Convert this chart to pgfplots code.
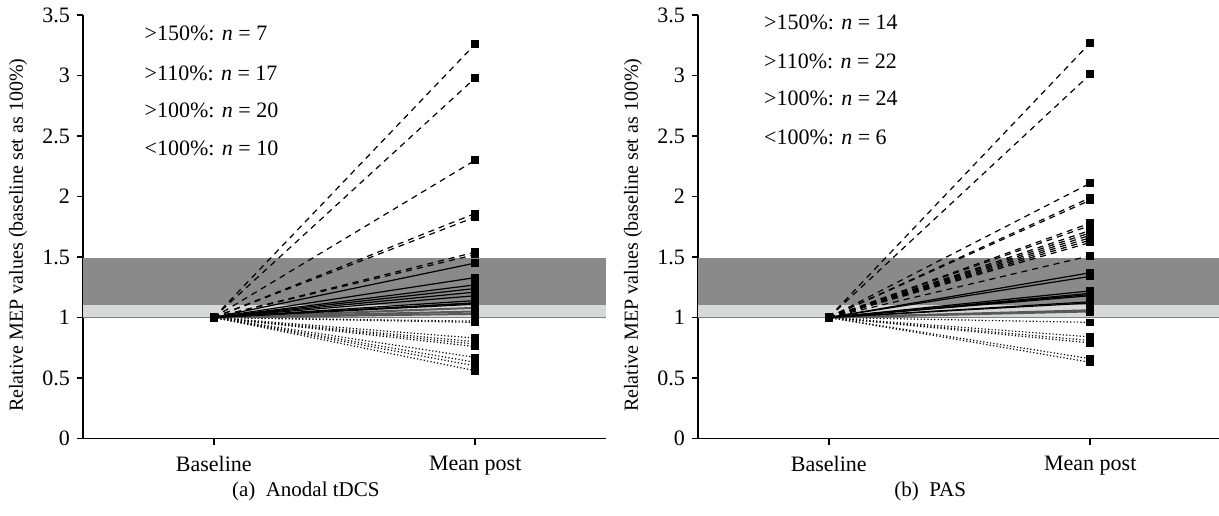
\documentclass[border=0pt]{standalone}
\usepackage{fontspec}
\setmainfont{Liberation Serif}
\usepackage{pgfplots}
\pgfplotsset{compat=1.18}
\definecolor{darkband}{HTML}{8A8A8A}
\definecolor{lightband}{HTML}{D7D8D8}
\tikzset{ann/.style={anchor=west, font=\fontsize{11}{13}\selectfont}}
\pgfplotsset{
  panel/.style={
    scale only axis, width=261.5pt, height=211.75pt,
    anchor=south west,
    xmin=0.5, xmax=2.5, ymin=0, ymax=3.5,
    axis lines*=left, axis line style={line width=0.9pt, -},
    xtick={1,2}, xticklabels={Baseline, Mean post},
    ytick={0,0.5,1,1.5,2,2.5,3,3.5},
    tick align=outside, major tick length=3pt, tick style={line width=0.9pt, black},
    tick label style={font=\fontsize{11}{13}\selectfont},
    xticklabel style={yshift=-2.5pt},
    /pgf/number format/assume math mode=true,
    ylabel={Relative MEP values (baseline set as 100\%)},
    ylabel style={at={(axis description cs:-0.124,0.48)}, anchor=center, font=\fontsize{10}{12}\selectfont},
    clip=false,
  },
  base/.style={black, line width=0.6pt, mark=square*, mark size=1.6pt, mark options={solid, black}},
  dsh/.style={base, dash pattern=on 3pt off 2.5pt},
  sol/.style={base},
  gry/.style={base, black!65, line width=1pt},
  dot/.style={base, dash pattern=on 0.6pt off 1.1pt},
}
\begin{document}
\begin{tikzpicture}
\useasboundingbox (0,0) rectangle (609.5pt,257.5pt);
% ---------------- (a) Anodal tDCS ----------------
\begin{axis}[panel, at={(41.5pt,38.25pt)}]
\addplot[draw=none, fill=darkband, forget plot] coordinates {(0.5,1.1) (2.5,1.1) (2.5,1.49) (0.5,1.49)} -- cycle;
\addplot[draw=none, fill=lightband, forget plot] coordinates {(0.5,1) (2.5,1) (2.5,1.1) (0.5,1.1)} -- cycle;
\addplot[gray, line width=0.5pt, forget plot] coordinates {(0.5,1) (2.5,1)};
\pgfplotsinvokeforeach{0.97,0.96,0.83,0.80,0.78,0.76,0.67,0.63,0.60,0.56}{
  \addplot[dot] coordinates {(1,1) (2,#1)};
}
\pgfplotsinvokeforeach{1.08,1.05,1.03}{
  \addplot[gry] coordinates {(1,1) (2,#1)};
}
\pgfplotsinvokeforeach{1.45,1.33,1.27,1.24,1.21,1.18,1.14,1.12,1.12,1.11}{
  \addplot[sol] coordinates {(1,1) (2,#1)};
}
\pgfplotsinvokeforeach{3.26,2.98,2.30,1.86,1.83,1.54,1.52}{
  \addplot[dsh] coordinates {(1,1) (2,#1)};
}
\node[ann] at (axis cs:0.709,3.35) {>150\%: \textit{n} = 7};
\node[ann] at (axis cs:0.709,3.02) {>110\%: \textit{n} = 17};
\node[ann] at (axis cs:0.709,2.715) {>100\%: \textit{n} = 20};
\node[ann] at (axis cs:0.709,2.40) {<100\%: \textit{n} = 10};
\node[font=\fontsize{10.5}{12}\selectfont] at (axis description cs:0.426,-0.124) {(a)\enspace Anodal tDCS};
\end{axis}
% ---------------- (b) PAS ----------------
\begin{axis}[panel, at={(349pt,38.25pt)}]
\addplot[draw=none, fill=darkband, forget plot] coordinates {(0.5,1.1) (2.5,1.1) (2.5,1.49) (0.5,1.49)} -- cycle;
\addplot[draw=none, fill=lightband, forget plot] coordinates {(0.5,1) (2.5,1) (2.5,1.1) (0.5,1.1)} -- cycle;
\addplot[gray, line width=0.5pt, forget plot] coordinates {(0.5,1) (2.5,1)};
\pgfplotsinvokeforeach{0.96,0.84,0.81,0.79,0.66,0.63}{
  \addplot[dot] coordinates {(1,1) (2,#1)};
}
\pgfplotsinvokeforeach{1.06,1.05}{
  \addplot[gry] coordinates {(1,1) (2,#1)};
}
\pgfplotsinvokeforeach{1.37,1.34,1.22,1.20,1.19,1.18,1.13,1.12}{
  \addplot[sol] coordinates {(1,1) (2,#1)};
}
\pgfplotsinvokeforeach{3.27,3.01,2.11,1.99,1.97,1.78,1.76,1.72,1.70,1.68,1.66,1.64,1.62,1.51}{
  \addplot[dsh] coordinates {(1,1) (2,#1)};
}
\node[ann] at (axis cs:0.726,3.44) {>150\%: \textit{n} = 14};
\node[ann] at (axis cs:0.726,3.12) {>110\%: \textit{n} = 22};
\node[ann] at (axis cs:0.726,2.81) {>100\%: \textit{n} = 24};
\node[ann] at (axis cs:0.726,2.49) {<100\%: \textit{n} = 6};
\node[font=\fontsize{10.5}{12}\selectfont] at (axis description cs:0.444,-0.124) {(b)\enspace PAS};
\end{axis}
\end{tikzpicture}
\end{document}
